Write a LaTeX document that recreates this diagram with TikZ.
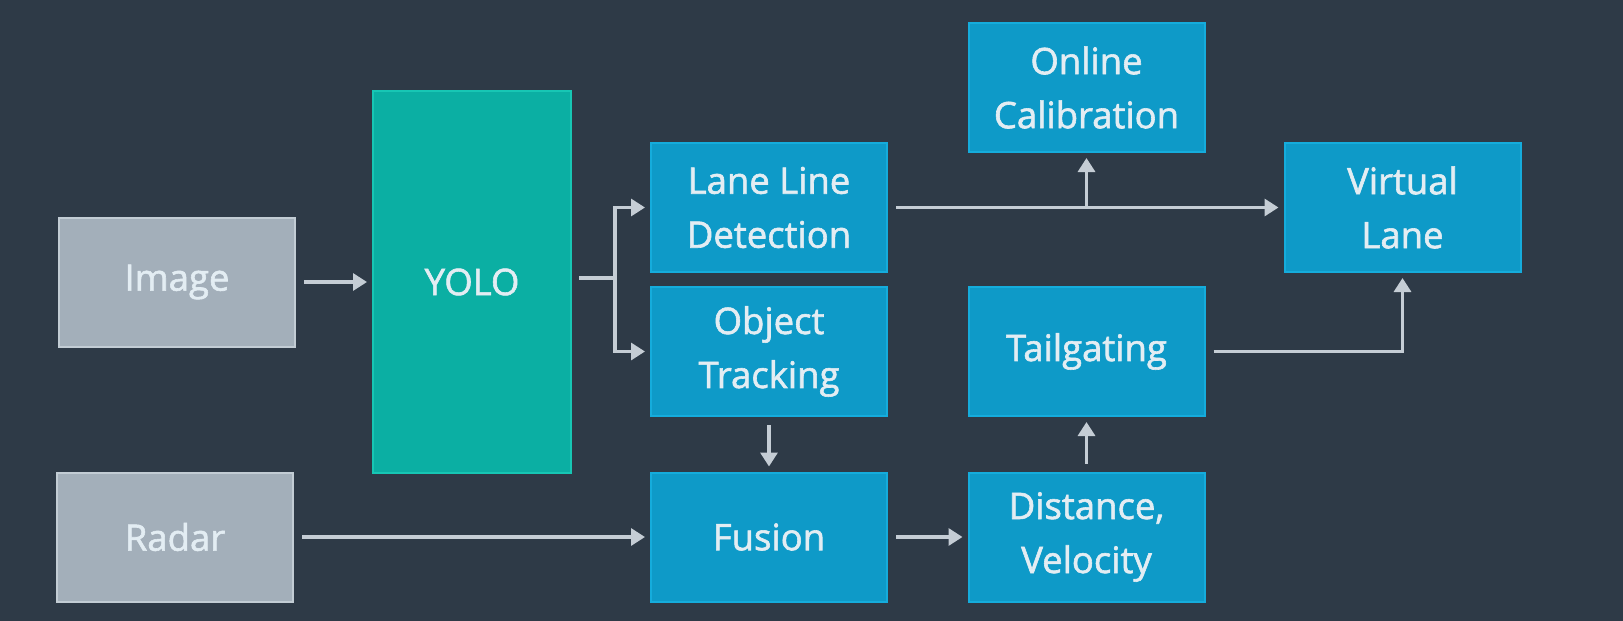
\documentclass[tikz,border=0pt]{standalone}
\usepackage{fontspec}
\setmainfont{Open Sans}
\newfontfamily\boxfont{Open Sans}[FakeBold=1.6]
\usetikzlibrary{arrows.meta,positioning}
\definecolor{bg}{HTML}{2E3A47}
\definecolor{grayfill}{HTML}{A3AFBA}
\definecolor{grayline}{HTML}{C2CCD4}
\definecolor{tealfill}{HTML}{0BAFA3}
\definecolor{tealline}{HTML}{17C6B4}
\definecolor{bluefill}{HTML}{0E9AC8}
\definecolor{blueline}{HTML}{15ACDC}
\definecolor{txt}{HTML}{E3EDF3}
\definecolor{arrowc}{HTML}{C5CDD5}
\tikzset{
  boxbase/.style={rectangle, line width=2pt, minimum width=236pt, minimum height=129pt,
    align=center, text=txt, font=\boxfont\fontsize{36.5}{54}\selectfont, inner sep=0pt},
  graybox/.style={boxbase, fill=grayfill, draw=grayline},
  tealbox/.style={boxbase, fill=tealfill, draw=tealline},
  bluebox/.style={boxbase, fill=bluefill, draw=blueline},
  conn/.style={draw=arrowc, line width=3.2pt, -{Triangle[width=17pt,length=14pt]},
    shorten <=8pt, shorten >=5pt},
  plain/.style={draw=arrowc, line width=3.2pt}
}
\begin{document}
\begin{tikzpicture}[x=1pt,y=-1pt]
\fill[bg] (0,0) rectangle (1623,621);
\useasboundingbox (0,0) rectangle (1623,621);

\node[graybox] (img) at (177,282) {Image};
\node[graybox] (radar) at (175,537) {Radar};
\node[tealbox, minimum width=198pt, minimum height=382pt] (yolo) at (472,282) {YOLO};
\node[bluebox] (lane) at (769,207.5) {Lane Line\\Detection};
\node[bluebox] (obj) at (769,351.5) {Object\\Tracking};
\node[bluebox] (fusion) at (769,537) {Fusion};
\node[bluebox] (online) at (1086.5,87.5) {Online\\Calibration};
\node[bluebox] (tail) at (1086.5,351.5) {Tailgating};
\node[bluebox] (dist) at (1086.5,537) {Distance,\\Velocity};
\node[bluebox] (virt) at (1402.5,207.5) {Virtual\\Lane};

\coordinate (br) at (615,278);
\coordinate (up) at (online.south |- lane.east);

\draw[conn] (img) -- (yolo);
\draw[plain, shorten <=7pt] (yolo.east |- br) -- (br);
\draw[conn, shorten <=0pt] (br) |- (lane.west);
\draw[conn, shorten <=0pt] (br) |- (obj.west);
\draw[conn] (lane) -- (virt);
\draw[conn, shorten <=0pt] (up) -- (online);
\draw[conn] (tail.east) -| (virt.south);
\draw[conn] (obj) -- (fusion);
\draw[conn] (radar) -- (fusion);
\draw[conn] (fusion) -- (dist);
\draw[conn] (dist) -- (tail);
\end{tikzpicture}
\end{document}
